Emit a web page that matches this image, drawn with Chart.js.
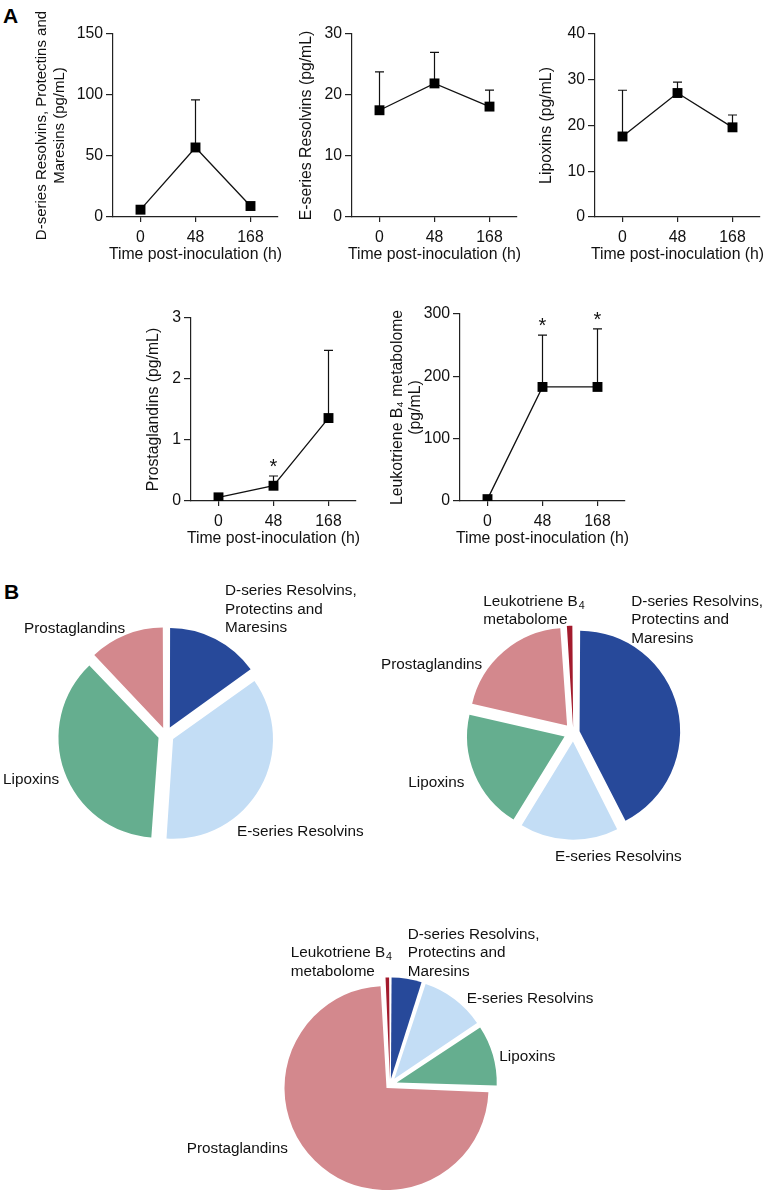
<!DOCTYPE html>
<html>
<head>
<meta charset="utf-8">
<script src="https://cdn.jsdelivr.net/npm/chart.js@4.4.1/dist/chart.umd.min.js"></script>
<style>
  body { margin: 0; background: #fff; width: 767px; height: 1190px; position: relative; overflow: hidden;
         font-family: 'Liberation Sans', Arial, sans-serif; }
  canvas { position: absolute; }
  .panel { position: absolute; font-weight: bold; font-size: 21px; color: #000; }
</style>
</head>
<body>
<div class="panel" style="left:3px;top:4px">A</div>
<div class="panel" style="left:4px;top:580px">B</div>
<canvas id="c1"></canvas>
<canvas id="c2"></canvas>
<canvas id="c3"></canvas>
<canvas id="c4"></canvas>
<canvas id="c5"></canvas>
<canvas id="p1"></canvas>
<canvas id="p2"></canvas>
<canvas id="p3"></canvas>
<script>
// data
const hours = ['0', '48', '168'];
const xTitle = 'Time post-inoculation (h)';

const dSeries = [6, 57, 9];
const dSeriesUpper = [null, 96, null];
const eSeries = [17.5, 21.9, 18.1];
const eSeriesUpper = [23.8, 27, 20.8];
const lipoxins = [17.6, 27.1, 19.6];
const lipoxinsUpper = [27.7, 29.5, 22.3];
const prostaglandins = [0.06, 0.25, 1.36];
const prostaglandinsUpper = [null, 0.41, 2.47];
const prostaglandinsSig = [false, true, false];
const ltb4 = [3, 183, 183];
const ltb4Upper = [null, 266, 276];
const ltb4Sig = [false, true, true];

// pie shares (%), clockwise from 12 o'clock
const pieCompounds0 = ['D-series', 'E-series', 'Lipoxins', 'Prostaglandins'];
const pieShares0 = [15.1, 36.0, 36.8, 12.1];
const pieCompounds = ['D-series', 'E-series', 'Lipoxins', 'Prostaglandins', 'LTB4'];
const pieShares48 = [42.5, 16.2, 19.8, 20.3, 1.1];
const pieShares168 = [5.0, 10.6, 9.9, 73.6, 0.8];

const FONT = "'Liberation Sans', Arial, sans-serif";
const FS = 15.8;
const PIE_FS = 15.3;
Chart.defaults.font.family = FONT;
Chart.defaults.font.size = FS;
Chart.defaults.color = '#111';

const sliceColors = {
  'D-series': '#27499a',
  'E-series': '#c3ddf5',
  'Lipoxins': '#65ae8f',
  'Prostaglandins': '#d3888d',
  'LTB4': '#a31b2d'
};
const labelLines = {
  'D-series': ['D-series Resolvins,', 'Protectins and', 'Maresins'],
  'E-series': ['E-series Resolvins'],
  'Lipoxins': ['Lipoxins'],
  'Prostaglandins': ['Prostaglandins'],
  'LTB4': ['Leukotriene B_4', 'metabolome']
};

function placeCanvas(id, x, y, w, h) {
  const c = document.getElementById(id);
  c.width = w; c.height = h;
  c.style.left = x + 'px'; c.style.top = y + 'px';
  c.style.width = w + 'px'; c.style.height = h + 'px';
  return c;
}

// upper error bars, significance stars and the x title (drawn without width squeeze)
const errorBars = {
  id: 'errorBars',
  beforeDatasetsDraw(chart, args, opts) {
    const {ctx, scales: {x, y}} = chart;
    const vals = chart.data.datasets[0].data;
    ctx.save();
    ctx.strokeStyle = '#111';
    ctx.lineWidth = 1.2;
    opts.upper.forEach((u, i) => {
      if (u == null) return;
      const px = x.getPixelForValue(i);
      const py = y.getPixelForValue(vals[i]);
      const pu = y.getPixelForValue(u);
      ctx.beginPath();
      ctx.moveTo(px, py); ctx.lineTo(px, pu);
      ctx.moveTo(px - 4.5, pu); ctx.lineTo(px + 4.5, pu);
      ctx.stroke();
    });
    ctx.restore();
  },
  afterDatasetsDraw(chart, args, opts) {
    const {ctx, chartArea, scales: {x, y}} = chart;
    ctx.save();
    ctx.fillStyle = '#111';
    ctx.textAlign = 'center';
    ctx.font = FS + 'px ' + FONT;
    ctx.textBaseline = 'middle';
    ctx.fillText(xTitle, (chartArea.left + chartArea.right) / 2, chartArea.bottom + 38);
    if (opts.sig) {
      ctx.font = '20px ' + FONT;
      ctx.textBaseline = 'alphabetic';
      opts.sig.forEach((s, i) => {
        if (!s) return;
        const top = opts.upper[i] != null ? opts.upper[i] : chart.data.datasets[0].data[i];
        ctx.fillText('*', x.getPixelForValue(i), y.getPixelForValue(top) - 3);
      });
    }
    ctx.restore();
  }
};

function lineChart(id, box, yTitle, values, upper, sig, yMax, yStep) {
  const yAxisW = 113, xAxisH = 52, padTop = 34, padRight = 12;
  const w = yAxisW + 165 + padRight;
  const h = (box.bottom - box.top) + padTop + xAxisH;
  const cx = box.left - yAxisW;
  const titleSize = box.titleSize || FS;
  const canvas = placeCanvas(id, cx, box.top - padTop, w, h);
  new Chart(canvas, {
    type: 'line',
    data: {
      labels: hours,
      datasets: [{
        data: values,
        borderColor: '#111',
        borderWidth: 1.3,
        tension: 0,
        pointStyle: 'rect',
        pointRadius: 7,
        pointBackgroundColor: '#000',
        pointBorderWidth: 0
      }]
    },
    options: {
      responsive: false,
      animation: false,
      layout: { padding: { top: padTop, right: padRight, left: 0, bottom: 0 } },
      scales: {
        x: {
          type: 'category',
          offset: true,
          afterFit: s => { s.height = xAxisH; },
          grid: { drawOnChartArea: false, tickLength: 5, color: '#222', lineWidth: 1.2 },
          border: { color: '#222', width: 1.2 },
          ticks: { padding: 6, maxRotation: 0, color: '#111' }
        },
        y: {
          min: 0, max: yMax,
          afterFit: s => { s.width = yAxisW; },
          grid: { drawOnChartArea: false, tickLength: 7, color: '#222', lineWidth: 1.2 },
          border: { color: '#222', width: 1.2 },
          ticks: { stepSize: yStep, padding: 3, color: '#111' },
          title: { display: true, text: yTitle, color: '#111',
                   font: { size: titleSize, lineHeight: 18 / titleSize },
                   padding: { top: box.titleX - cx - 9, bottom: 0 } }
        }
      },
      plugins: {
        legend: { display: false },
        tooltip: { enabled: false },
        errorBars: { upper: upper, sig: sig }
      }
    },
    plugins: [errorBars]
  });
}

lineChart('c1', {left: 113, top: 34, bottom: 217, titleX: 42, titleSize: 15},
  ['D-series Resolvins, Protectins and', 'Maresins (pg/mL)'], dSeries, dSeriesUpper, null, 150, 50);
lineChart('c2', {left: 352, top: 34, bottom: 217, titleX: 306.7},
  'E-series Resolvins (pg/mL)', eSeries, eSeriesUpper, null, 30, 10);
lineChart('c3', {left: 595, top: 34, bottom: 217, titleX: 546.7},
  'Lipoxins (pg/mL)', lipoxins, lipoxinsUpper, null, 40, 10);
lineChart('c4', {left: 191, top: 318, bottom: 501, titleX: 153.3},
  'Prostaglandins (pg/mL)', prostaglandins, prostaglandinsUpper, prostaglandinsSig, 3, 1);
lineChart('c5', {left: 460, top: 314, bottom: 501, titleX: 398},
  ['Leukotriene B\u2084 metabolome', '(pg/mL)'], ltb4, ltb4Upper, ltb4Sig, 300, 100);

// text with "_" marking a subscript
function drawRich(ctx, text, x, y) {
  const parts = text.split('_');
  ctx.font = PIE_FS + 'px ' + FONT;
  ctx.fillText(parts[0], x, y);
  if (parts[1]) {
    const w = ctx.measureText(parts[0]).width;
    ctx.font = (PIE_FS * 0.7) + 'px ' + FONT;
    ctx.fillText(parts[1], x + w + 1, y + 4);
  }
}

const pieLabels = {
  id: 'pieLabels',
  afterDraw(chart, args, opts) {
    const arc = chart.getDatasetMeta(0).data[0];
    const ctx = chart.ctx;
    ctx.save();
    ctx.fillStyle = '#111';
    ctx.textAlign = 'left';
    ctx.textBaseline = 'middle';
    chart.data.labels.forEach((name, i) => {
      const pos = opts.pos[i];
      labelLines[name].forEach((line, k) => {
        drawRich(ctx, line, arc.x + pos[0], arc.y + pos[1] + k * 18.4);
      });
    });
    ctx.restore();
  }
};

// constant explode distance along each slice's bisector
function explode(dist) {
  return c => {
    const vals = c.dataset.data;
    const total = vals.reduce((a, b) => a + b, 0);
    const circ = Math.min(Math.PI, 2 * Math.PI * vals[c.dataIndex] / total);
    const fix = 1 - Math.sin(circ);
    return dist * 4 / (1 + fix);
  };
}

function pieChart(id, rect, center, radius, names, shares, pos) {
  const canvas = placeCanvas(id, rect[0], rect[1], rect[2], rect[3]);
  const s = radius + 6;
  new Chart(canvas, {
    type: 'pie',
    data: {
      labels: names,
      datasets: [{
        data: shares,
        backgroundColor: names.map(n => sliceColors[n]),
        borderWidth: 0,
        offset: explode(10),
        clip: false
      }]
    },
    options: {
      responsive: false,
      animation: false,
      radius: radius,
      layout: { padding: {
        left: center[0] - s - rect[0],
        right: rect[0] + rect[2] - center[0] - s,
        top: center[1] - s - rect[1],
        bottom: rect[1] + rect[3] - center[1] - s
      } },
      plugins: {
        legend: { display: false },
        tooltip: { enabled: false },
        pieLabels: { pos: pos }
      }
    },
    plugins: [pieLabels]
  });
}

pieChart('p1', [0, 570, 380, 300], [166, 735], 98, pieCompounds0, pieShares0,
  [[59, -144], [71, 97], [-163, 45], [-142, -106]]);
pieChart('p2', [380, 575, 387, 300], [573.3, 732.7], 97, pieCompounds, pieShares48,
  [[58, -131], [-18.3, 124], [-165, 50.3], [-192.3, -67.7], [-90, -131]]);
pieChart('p3', [170, 905, 430, 285], [390, 1084.5], 97, pieCompounds, pieShares168,
  [[17.7, -150], [76.7, -86], [109.3, -28], [-203.3, 64], [-99.3, -131.6]]);
</script>
</body>
</html>
